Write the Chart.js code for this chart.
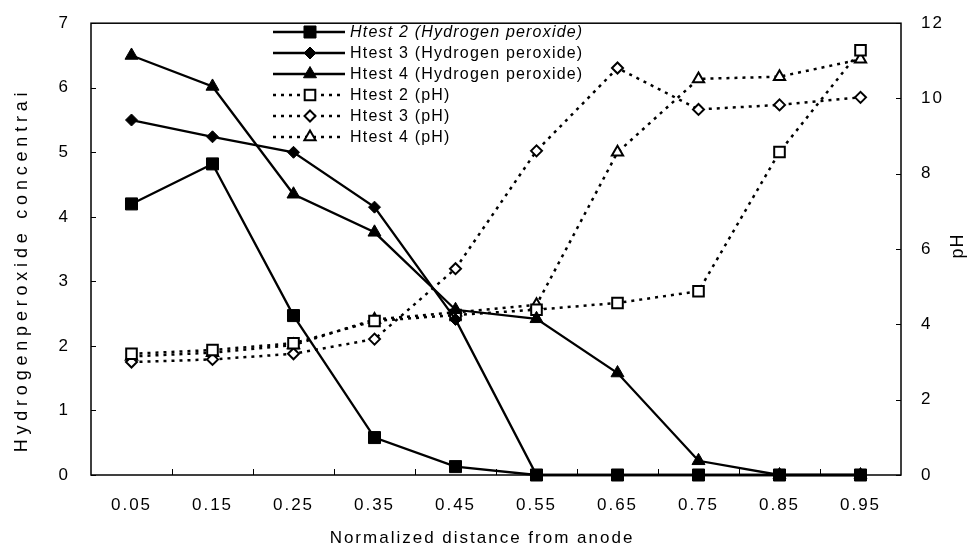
<!DOCTYPE html>
<html>
<head>
<meta charset="utf-8">
<script src="https://cdn.jsdelivr.net/npm/chart.js@4.4.1/dist/chart.umd.min.js"></script>
<style>
  html, body { margin: 0; padding: 0; background: #fff; }
  #wrap { width: 978px; height: 556px; position: relative; }
</style>
</head>
<body>
<div id="wrap"><canvas id="h2o2-chart"></canvas></div>
<script>
// data
const distances = ['0.05', '0.15', '0.25', '0.35', '0.45', '0.55', '0.65', '0.75', '0.85', '0.95'];

const h2o2Test2 = [4.2, 4.82, 2.47, 0.58, 0.13, 0, 0, 0, 0, 0];
const h2o2Test3 = [5.5, 5.24, 5.0, 4.15, 2.41, 0, 0, 0, 0, 0];
const h2o2Test4 = [6.5, 6.02, 4.35, 3.76, 2.56, 2.42, 1.58, 0.22, 0, 0];

const phTest2 = [3.22, 3.32, 3.5, 4.09, 4.25, 4.39, 4.57, 4.88, 8.58, 11.28];
const phTest3 = [3.0, 3.07, 3.22, 3.61, 5.48, 8.61, 10.81, 9.71, 9.83, 10.03];
const phTest4 = [3.15, 3.25, 3.45, 4.13, 4.32, 4.52, 8.57, 10.52, 10.58, 11.04];

const seriesLabels = [
  'Htest 2 (Hydrogen peroxide)',
  'Htest 3 (Hydrogen peroxide)',
  'Htest 4 (Hydrogen peroxide)',
  'Htest 2 (pH)',
  'Htest 3 (pH)',
  'Htest 4 (pH)',
];

const FONT = "'Liberation Sans', Arial, sans-serif";

// marker shapes used in the legend (same as chart.js ones)
function marker(ctx, shape, x, y, r, filled) {
  ctx.beginPath();
  if (shape === 'rect') {
    const s = r * Math.SQRT1_2;
    ctx.rect(x - s, y - s, 2 * s, 2 * s);
  } else if (shape === 'rectRot') {
    ctx.moveTo(x, y - r); ctx.lineTo(x + r, y); ctx.lineTo(x, y + r); ctx.lineTo(x - r, y);
    ctx.closePath();
  } else {
    const h = r * 1.5, w = r * Math.sqrt(3) / 2;
    ctx.moveTo(x, y - r); ctx.lineTo(x + w, y + h - r); ctx.lineTo(x - w, y + h - r);
    ctx.closePath();
  }
  ctx.fillStyle = filled ? '#000' : '#fff';
  ctx.fill();
  ctx.lineWidth = filled ? 1 : 2;
  ctx.strokeStyle = '#000';
  ctx.stroke();
}

function solid(label, data, shape, r) {
  return {
    label, data, yAxisID: 'y', clip: false,
    borderColor: '#000', borderWidth: 2.3, tension: 0,
    pointStyle: shape, pointRadius: r, pointBackgroundColor: '#000',
    pointBorderColor: '#000', pointBorderWidth: 1,
  };
}
function dotted(label, data, shape, r) {
  return {
    label, data, yAxisID: 'y2', clip: false,
    borderColor: '#000', borderWidth: 2.5, borderDash: [3, 5], tension: 0,
    pointStyle: shape, pointRadius: r, pointBackgroundColor: '#fff',
    pointBorderColor: '#000', pointBorderWidth: 2,
  };
}

// box, inward ticks, titles and letter spacing of the scanned figure
const frame = {
  id: 'frame',
  beforeDraw(chart) {
    chart.ctx.letterSpacing = '2px';
  },
  beforeDatasetsDraw(chart) {
    const ctx = chart.ctx;
    const a = chart.chartArea;
    const x = chart.scales.x, y = chart.scales.y, y2 = chart.scales.y2;
    ctx.save();
    ctx.strokeStyle = '#000';
    ctx.lineWidth = 1.5;
    ctx.setLineDash([]);
    ctx.strokeRect(a.left, a.top, a.right - a.left, a.bottom - a.top);
    ctx.lineWidth = 1;
    ctx.beginPath();
    y.ticks.forEach(t => {
      const py = Math.round(y.getPixelForValue(t.value)) + 0.5;
      ctx.moveTo(a.left, py); ctx.lineTo(a.left + 5, py);
    });
    y2.ticks.forEach(t => {
      const py = Math.round(y2.getPixelForValue(t.value)) + 0.5;
      ctx.moveTo(a.right, py); ctx.lineTo(a.right - 5, py);
    });
    const half = (x.getPixelForValue(1) - x.getPixelForValue(0)) / 2;
    for (let i = 0; i < distances.length - 1; i++) {
      const px = Math.round(x.getPixelForValue(i) + half) + 0.5;
      ctx.moveTo(px, a.bottom); ctx.lineTo(px, a.bottom - 6);
    }
    ctx.stroke();
    ctx.restore();
  },
  afterDraw(chart) {
    const ctx = chart.ctx;
    ctx.save();
    ctx.fillStyle = '#000';
    ctx.textAlign = 'center';
    ctx.textBaseline = 'middle';
    ctx.font = '17px ' + FONT;
    ctx.letterSpacing = '2px';
    ctx.fillText('Normalized distance from anode', 482, 538);

    ctx.save();
    ctx.translate(22, 270);
    ctx.rotate(-Math.PI / 2);
    ctx.font = '18px ' + FONT;
    ctx.letterSpacing = '4.8px';
    ctx.fillText('Hydrogenperoxide concentrai', 0, 0);
    ctx.restore();

    ctx.save();
    ctx.translate(958, 246);
    ctx.rotate(-Math.PI / 2);
    ctx.font = '18px ' + FONT;
    ctx.letterSpacing = '1px';
    ctx.fillText('pH', 0, 0);
    ctx.restore();
    ctx.restore();
  },
};

const legendBox = {
  id: 'legendBox',
  afterDraw(chart, args, opts) {
    const ctx = chart.ctx;
    chart.data.datasets.forEach((ds, i) => {
      const ly = opts.top + i * opts.rowGap;
      ctx.save();
      ctx.strokeStyle = '#000';
      ctx.lineWidth = ds.borderWidth;
      ctx.setLineDash(ds.borderDash || []);
      ctx.beginPath();
      ctx.moveTo(opts.x0, ly); ctx.lineTo(opts.x1, ly);
      ctx.stroke();
      ctx.setLineDash([]);
      marker(ctx, ds.pointStyle, opts.mx, ly, ds.pointRadius, ds.pointBackgroundColor === '#000');
      ctx.fillStyle = '#000';
      ctx.textAlign = 'left';
      ctx.textBaseline = 'middle';
      ctx.font = (i === 0 ? 'italic ' : '') + '16px ' + FONT;
      ctx.letterSpacing = '1.2px';
      ctx.fillText(ds.label, opts.tx, ly + 1);
      ctx.restore();
    });
  },
};

const tickFont = { family: FONT, size: 17 };

new Chart(document.getElementById('h2o2-chart'), {
  type: 'line',
  data: {
    labels: distances,
    datasets: [
      solid(seriesLabels[0], h2o2Test2, 'rect', 8.5),
      solid(seriesLabels[1], h2o2Test3, 'rectRot', 6),
      solid(seriesLabels[2], h2o2Test4, 'triangle', 7.5),
      dotted(seriesLabels[3], phTest2, 'rect', 7.5),
      dotted(seriesLabels[4], phTest3, 'rectRot', 5.5),
      dotted(seriesLabels[5], phTest4, 'triangle', 6.5),
    ],
  },
  options: {
    responsive: true,
    maintainAspectRatio: false,
    animation: false,
    layout: { padding: { top: 15, left: 0, right: 0, bottom: 0 } },
    plugins: {
      legend: { display: false },
      tooltip: { enabled: false },
      legendBox: { x0: 273, x1: 345, mx: 310, tx: 350, top: 32, rowGap: 21 },
    },
    scales: {
      x: {
        type: 'category',
        offset: true,
        grid: { display: false },
        border: { display: false },
        ticks: { color: '#000', font: tickFont, padding: 12, maxRotation: 0 },
        afterFit: s => { s.height = 81; },
      },
      y: {
        position: 'left',
        min: 0, max: 7,
        grid: { display: false },
        border: { display: false },
        ticks: { stepSize: 1, color: '#000', font: tickFont, padding: 13 },
        afterFit: s => { s.width = 91; },
      },
      y2: {
        position: 'right',
        min: 0, max: 12,
        grid: { display: false },
        border: { display: false },
        ticks: { stepSize: 2, color: '#000', font: tickFont, padding: 12 },
        afterFit: s => { s.width = 77; },
      },
    },
  },
  plugins: [frame, legendBox],
});
</script>
</body>
</html>
